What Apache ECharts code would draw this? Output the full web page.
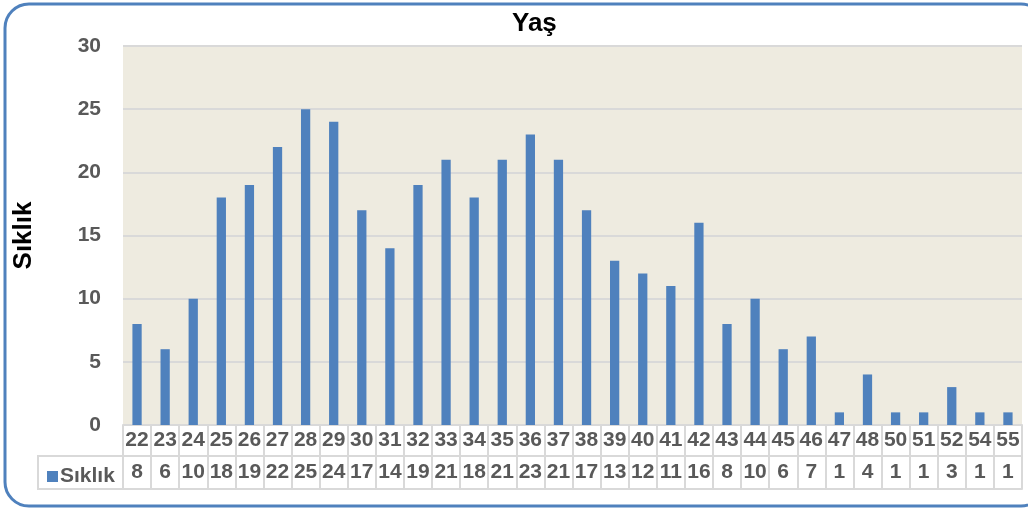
<!DOCTYPE html>
<html>
<head>
<meta charset="utf-8">
<script src="https://cdn.jsdelivr.net/npm/echarts@6/dist/echarts.min.js"></script>
<style>
  html, body { margin: 0; padding: 0; background: #fff; }
  #main { width: 1028px; height: 509px; }
</style>
</head>
<body>
<div id="main"></div>
<script type="text/javascript">
    // veriler
    var yaslar = ['22','23','24','25','26','27','28','29','30','31','32','33','34','35','36','37','38','39','40','41','42','43','44','45','46','47','48','50','51','52','54','55'];
    var siklik = [8, 6, 10, 18, 19, 22, 25, 24, 17, 14, 19, 21, 18, 21, 23, 21, 17, 13, 12, 11, 16, 8, 10, 6, 7, 1, 4, 1, 1, 3, 1, 1];
    var yTicks = { min: 0, max: 30, interval: 5 };

    var gri = '#d9d9d9';
    var yaziRengi = '#595959';
    var font = 'Liberation Sans, Arial, sans-serif';

    var myChart = echarts.init(document.getElementById('main'));

    var option = {
        backgroundColor: '#fff',
        animation: false,
        title: {
            text: 'Yaş',
            left: 507,
            top: 6,
            textStyle: { fontFamily: font, fontSize: 26, fontWeight: 'bold', color: '#000' }
        },
        legend: {
            data: ['Sıklık'],
            left: 42,
            top: 461,
            icon: 'rect',
            itemWidth: 11,
            itemHeight: 11,
            itemGap: 4,
            textStyle: { fontFamily: font, fontSize: 21, fontWeight: 'bold', color: yaziRengi, padding: [0, 0, 0, -3] }
        },
        grid: {
            left: 123,
            right: 6,
            top: 46,
            bottom: 84,
            show: true,
            backgroundColor: '#eeebe0',
            borderWidth: 0
        },
        xAxis: [
            {
                type: 'category',
                data: yaslar,
                position: 'bottom',
                axisLine: { show: true, lineStyle: { color: gri, width: 2 } },
                axisTick: { show: true, length: 64, lineStyle: { color: gri, width: 2 } },
                axisLabel: { margin: 5, fontFamily: font, fontSize: 21, fontWeight: 'bold', color: yaziRengi, interval: 0 }
            },
            {
                type: 'category',
                data: siklik.map(String),
                position: 'bottom',
                offset: 31,
                axisLine: { show: true, lineStyle: { color: gri, width: 2 } },
                axisTick: { show: false },
                axisLabel: { margin: 6, fontFamily: font, fontSize: 21, fontWeight: 'bold', color: yaziRengi, interval: 0 }
            },
            {
                type: 'category',
                data: yaslar,
                position: 'bottom',
                offset: 64,
                axisLine: { show: true, lineStyle: { color: gri, width: 2 } },
                axisTick: { show: false },
                axisLabel: { show: false }
            }
        ],
        yAxis: {
            type: 'value',
            min: yTicks.min,
            max: yTicks.max,
            interval: yTicks.interval,
            name: 'Sıklık',
            nameLocation: 'middle',
            nameGap: 86,
            nameRotate: 90,
            nameTextStyle: { fontFamily: font, fontSize: 26, fontWeight: 'bold', color: '#000' },
            axisLine: { show: false },
            axisTick: { show: false },
            axisLabel: { margin: 22, fontFamily: font, fontSize: 21, fontWeight: 'bold', color: yaziRengi },
            splitLine: { lineStyle: { color: gri, width: 2 } }
        },
        series: [
            {
                name: 'Sıklık',
                type: 'bar',
                xAxisIndex: 0,
                barWidth: '33%',
                itemStyle: { color: '#4f81bd' },
                data: siklik
            }
        ],
        graphic: [
            {
                type: 'rect',
                shape: { x: 38, y: 456, width: 85, height: 33 },
                style: { fill: 'none', stroke: gri, lineWidth: 2 },
                silent: true
            },
            {
                type: 'rect',
                shape: { x: 5, y: 4, width: 1040, height: 502, r: 24 },
                style: { fill: 'none', stroke: '#4f81bd', lineWidth: 3 },
                silent: true
            }
        ]
    };

    myChart.setOption(option);
</script>
</body>
</html>
